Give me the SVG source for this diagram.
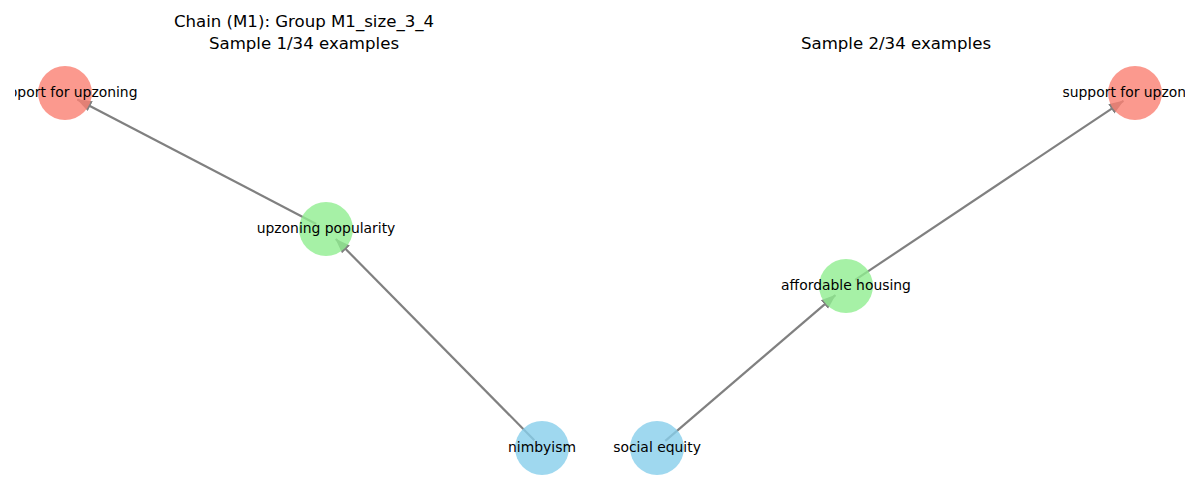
<svg xmlns="http://www.w3.org/2000/svg" width="1200" height="500" viewBox="0 0 1200 500">
<style>
.title{font-family:"DejaVu Sans",sans-serif;font-size:16.6px;fill:#000;text-anchor:middle}
.lbl{font-family:"DejaVu Sans",sans-serif;font-size:13.9px;fill:#000;text-anchor:middle;dominant-baseline:central}
.edge{stroke:#808080;stroke-width:2.2;fill:none;marker-end:url(#ah)}
.n{opacity:0.8}
.red{fill:#fa8072}.green{fill:#90ee90}.blue{fill:#87ceeb}
</style>
<defs>
<marker id="ah" markerUnits="userSpaceOnUse" markerWidth="16" markerHeight="14" viewBox="0 -7 16 14" refX="14.5" refY="0" orient="auto">
<path d="M0,-5.5 L15,0 L0,5.5 z" fill="#808080"/>
</marker>
<clipPath id="cl"><rect x="15" y="0" width="578" height="500"/></clipPath>
<clipPath id="cr"><rect x="607" y="0" width="578" height="500"/></clipPath>
</defs>
<rect width="1200" height="500" fill="#fff"/>
<text class="title" x="304" y="27">Chain (M1): Group M1_size_3_4</text>
<text class="title" x="304" y="49">Sample 1/34 examples</text>
<text class="title" x="896" y="49">Sample 2/34 examples</text>
<g id="connectors">
<line class="edge" x1="534.3" y1="440.2" x2="335.8" y2="239.0"/>
<line class="edge" x1="316.2" y1="223.9" x2="77.4" y2="99.5"/>
<line class="edge" x1="665.3" y1="440.8" x2="835.4" y2="295.1"/>
<line class="edge" x1="855.2" y1="279.9" x2="1123.4" y2="100.8"/>
</g>
<g clip-path="url(#cl)">
<g id="node-l-support"><circle class="n red" cx="65" cy="93" r="27"/><text class="lbl" x="65" y="92">support for upzoning</text></g>
<g id="node-l-popularity"><circle class="n green" cx="326" cy="229" r="27"/><text class="lbl" x="326" y="228">upzoning popularity</text></g>
<g id="node-l-nimbyism"><circle class="n blue" cx="542" cy="448" r="27"/><text class="lbl" x="542" y="447">nimbyism</text></g>
</g>
<g clip-path="url(#cr)">
<g id="node-r-equity"><circle class="n blue" cx="657" cy="448" r="27"/><text class="lbl" x="657" y="447">social equity</text></g>
<g id="node-r-housing"><circle class="n green" cx="846" cy="286" r="27"/><text class="lbl" x="846" y="285">affordable housing</text></g>
<g id="node-r-support"><circle class="n red" cx="1135" cy="93" r="27"/><text class="lbl" x="1135" y="92">support for upzoning</text></g>
</g>
</svg>
